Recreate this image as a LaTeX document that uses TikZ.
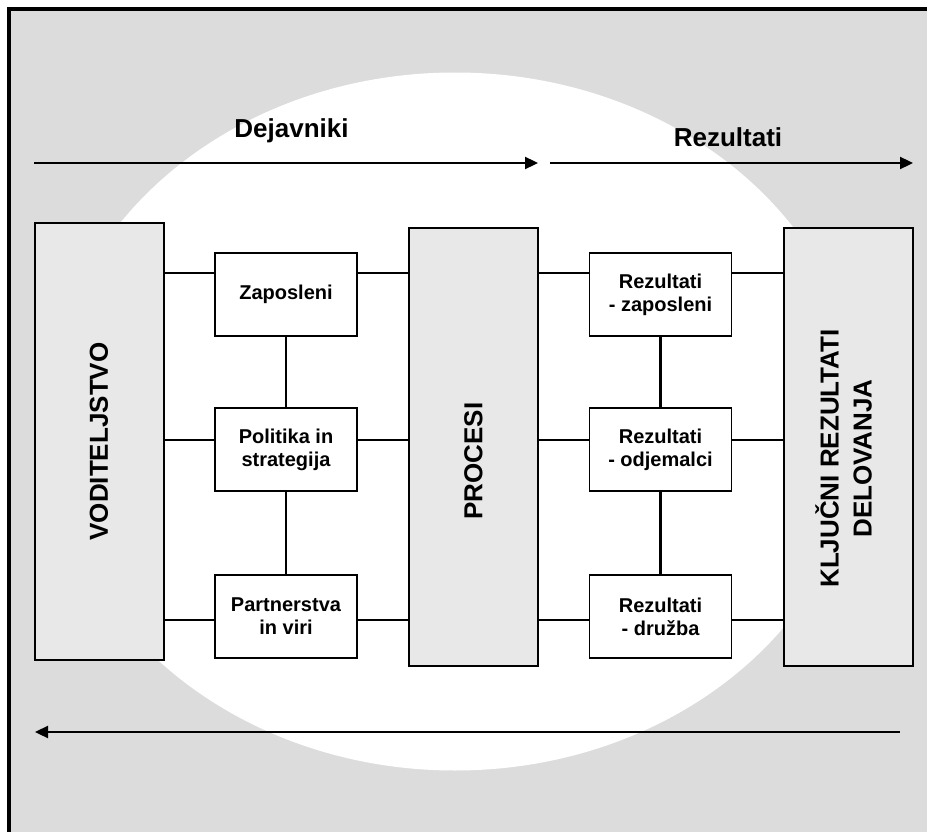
\documentclass[tikz,border=0pt]{standalone}
\usepackage{fontspec}
\setmainfont{Liberation Sans}
\usepackage{tikz}
\usetikzlibrary{positioning,arrows.meta,calc}

\definecolor{framegray}{HTML}{DCDCDC}
\definecolor{boxgray}{HTML}{E8E8E8}

\begin{document}
\begin{tikzpicture}[x=1pt, y=-1pt, >={Triangle[length=13pt,width=12pt]},
	big box/.style={draw, line width=2pt, fill=boxgray, inner sep=0pt, minimum width=129pt, minimum height=438pt, font=\fontsize{26}{33}\selectfont\bfseries},
	small box/.style={draw, line width=1.9pt, fill=white, inner sep=0pt, minimum width=142pt, minimum height=83pt, align=center, font=\fontsize{20}{23}\selectfont\bfseries},
	link/.style={line width=2.1pt},
	flow/.style={->, line width=2.3pt},
	head/.style={anchor=base, font=\fontsize{26}{30}\selectfont\bfseries}]
	
	\useasboundingbox (0,0) rectangle (927,832);
	\fill [framegray] (9,9) rectangle (927,832);
	\fill [white] (455,421.5) ellipse [x radius=407, y radius=349];
	\draw [line width=3.5pt, line join=miter] (9,832) -- (9,9) -- (927,9);
	
	\node [big box, minimum height=437pt] (vod) at (99,441.5) {\rotatebox{90}{VODITELJSTVO}};
	\node [big box] (proc) at (473.5,447) {\rotatebox{90}{PROCESI\hspace*{28pt}}};
	\node [big box] (klj) at (848.5,447) {\rotatebox{90}{\begin{tabular}{@{}c@{}}KLJUČNI REZULTATI\\DELOVANJA\end{tabular}\hspace*{23pt}}};
	
	\foreach \m/\y/\t in {zap/294.5/Zaposleni, pol/449.5/{Politika in\\strategija}, par/616.5/{Partnerstva\\in viri}}
	\node [small box] (dej-\m) at (286,\y) {\t};
	
	\foreach \m/\y/\t in {zap/294.5/{Rezultati\\- zaposleni}, odj/449.5/{Rezultati\\- odjemalci}, dru/616.5/{Rezultati\\- družba}}
	\node [small box] (res-\m) at (660.5,\y) {\t};
	
	\foreach \r/\y in {1/273, 2/440, 3/620}
	\coordinate (row-\r) at (0,\y);
	
	\foreach \m [count=\r] in {zap,pol,par}
	\draw [link] (vod.east |- row-\r) -- (dej-\m.west |- row-\r)
	(dej-\m.east |- row-\r) -- (proc.west |- row-\r);
	
	\foreach \m [count=\r] in {zap,odj,dru}
	\draw [link] (proc.east |- row-\r) -- (res-\m.west |- row-\r)
	(res-\m.east |- row-\r) -- (klj.west |- row-\r);
	
	\draw [link] (dej-zap) -- (dej-pol) (dej-pol) -- (dej-par);
	\draw [link] (res-zap) -- (res-odj) (res-odj) -- (res-dru);
	
	\coordinate (dej-start) at (34,163);
	\coordinate (dej-end) at (538,163);
	\coordinate (rez-start) at (550,163);
	\coordinate (rez-end) at (913,163);
	\coordinate (back-start) at (900,732);
	\coordinate (back-end) at (35,732);
	
	\draw [flow] (dej-start) -- (dej-end);
	\draw [flow] (rez-start) -- (rez-end);
	\draw [flow] (back-start) -- (back-end);
	
	\node [head] (dej-label) at (291.5,138) {Dejavniki};
	\node [head] (rez-label) at (728,147) {Rezultati};
	
\end{tikzpicture}
\end{document}
